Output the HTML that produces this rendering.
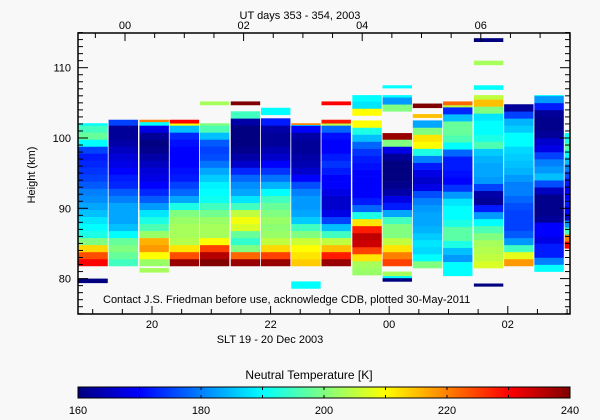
<!DOCTYPE html>
<html><head><meta charset="utf-8"><style>
html,body{margin:0;padding:0;background:#f8f8f8;}
svg{display:block;font-family:"Liberation Sans",sans-serif;}
</style></head><body>
<svg id="c" width="600" height="420" viewBox="0 0 600 420">
<rect width="600" height="420" fill="#f8f8f8"/>
<defs><clipPath id="pc"><rect x="78" y="33" width="492" height="281"/></clipPath>
<linearGradient id="jet" x1="0" x2="1" y1="0" y2="0">
<stop offset="0" stop-color="#000080"/><stop offset="0.125" stop-color="#0000ff"/><stop offset="0.25" stop-color="#0080ff"/><stop offset="0.375" stop-color="#00ffff"/><stop offset="0.5" stop-color="#80ff80"/><stop offset="0.625" stop-color="#ffff00"/><stop offset="0.75" stop-color="#ff8000"/><stop offset="0.875" stop-color="#ff0000"/><stop offset="1" stop-color="#800000"/>
</linearGradient></defs>
<g id="cells" clip-path="url(#pc)"></g>
<g id="axes"></g>
<text x="300" y="19" text-anchor="middle" font-size="11">UT days 353 - 354, 2003</text>
<text x="270" y="343" text-anchor="middle" font-size="11">SLT 19 - 20 Dec 2003</text>
<text transform="translate(35,175) rotate(-90)" text-anchor="middle" font-size="11">Height (km)</text>
<text x="103" y="303" font-size="11">Contact J.S. Friedman before use, acknowledge CDB, plotted 30-May-2011</text>
<text x="309" y="379" text-anchor="middle" font-size="12">Neutral Temperature [K]</text>
<rect x="78" y="387" width="492" height="11" fill="url(#jet)" stroke="#000" stroke-width="1"/>
<g id="cb"></g>
</svg>
<script>
// Column centre times (UT hours)
const times=[-0.53,-0.02,0.50,1.01,1.52,2.04,2.55,3.06,3.57,4.09,4.60,5.11,5.62,6.14,6.65,7.16,7.67];
// Segments: column index, bottom km, top km, temperatures (K) in 1 km bins bottom->top
const segCol=[0,0,1,2,2,2,3,3,4,4,5,5,6,6,7,7,7,8,8,8,9,9,10,10,10,10,10,10,11,11,11,12,12,13,13,13,13,13,14,15,16];
const segBottom=[81.8,79.4,81.8,81.8,102.3,80.9,81.8,102.1,81.8,104.7,81.8,104.7,81.8,103.3,81.8,101.9,78.6,81.8,102.1,104.7,80.5,103.2,81.8,79.6,80.1,80.4,103.8,107.1,81.5,104.3,102.9,80.4,104.7,81.5,78.9,106.9,110.4,113.7,81.8,81.0,84.3];
const segTop=[102.1,80.0,102.6,102.3,102.6,81.5,102.1,102.6,102.1,105.2,103.8,105.2,102.8,104.8,101.9,102.1,79.6,102.1,102.6,105.2,102.5,106.1,100.7,80.1,80.4,81.0,106.1,107.5,102.5,104.9,103.4,104.7,105.2,106.1,79.3,107.5,111.0,114.2,104.8,106.1,100.7];
const segVals=[
[230,224,213,200,192,190,188,185,183,181,180,177,175,174,173,172,175,190,198,195,190],
[160],
[195,198,200,198,190,185,183,183,183,180,177,173,172,170,168,167,165,163,162,162,175],
[202,210,218,216,202,196,192,188,182,177,173,170,168,167,165,163,161,160,162,168,190],
[220],[203],
[238,224,212,204,203,203,202,200,192,183,178,175,172,171,170,170,170,171,173,185,210],
[230],
[240,236,225,210,203,203,202,199,195,191,190,189,186,183,179,176,175,177,185,196,200],
[203],
[238,222,200,194,198,207,209,205,195,188,183,181,178,173,166,163,161,160,160,160,163,195],
[240],
[238,225,213,205,202,201,202,200,198,195,190,184,179,174,170,166,164,162,162,163,172],
[190],
[214,212,210,206,200,195,186,183,182,182,180,176,170,166,164,163,162,162,163,170,190],
[220],[190],
[238,228,215,205,195,185,175,168,166,166,168,170,170,172,174,172,170,170,171,178,205],
[228],[230],
[202,203,212,225,234,235,228,212,192,178,172,170,170,170,170,171,172,174,178,185,192,210],
[210,188,190],
[225,220,212,205,200,200,195,183,172,168,163,161,160,160,160,162,168,200,238],
[160],[190],[203],
[200,182,190],
[190],
[200,190,187,188,186,184,183,183,182,180,176,168,166,168,172,180,192,210,212,200,183],
[240],[215],
[190,190,182,185,192,197,197,192,190,190,188,182,174,170,171,172,172,178,190,196,198,198,185,173,205],
[222],
[207,205,204,203,200,196,190,182,172,162,163,175,182,183,183,184,186,196,192,190,190,188,200,215,205],
[160],[190],[203],[160],
[218,208,195,182,177,175,175,175,176,178,180,180,182,184,185,186,187,190,190,186,184,175,162],
[190,180,172,172,168,170,170,162,161,161,161,165,176,185,182,180,175,168,166,162,161,161,162,172,182,190],
[230,220,195,182,165,170,172,170,170,172,176,180,185,190,197,192,190]
];
const yTicks=[80,90,100,110];
const utTicks=[0,2,4,6];
const utLabels=["00","02","04","06"];
const sltTicks=[20,22,24,26];
const sltLabels=["20","22","00","02"];
const cbTicks=[160,180,200,220,240];
const NS="http://www.w3.org/2000/svg";
const X=t=>125+59.3*t;
const Y=h=>138-(h-100)*7.03;
const SLT0=19.545;
const XS=s=>X(s-SLT0);
const colW=0.5127;
const CB0=78,CBW=492;
const stops=[[0,0,0,128],[.125,0,0,255],[.25,0,128,255],[.375,0,255,255],[.5,128,255,128],[.625,255,255,0],[.75,255,128,0],[.875,255,0,0],[1,128,0,0]];
function jet(v){let f=Math.max(0,Math.min(1,(v-160)/80));for(let i=1;i<stops.length;i++){if(f<=stops[i][0]){const a=stops[i-1],b=stops[i],u=(f-a[0])/(b[0]-a[0]);return `rgb(${Math.round(a[1]+u*(b[1]-a[1]))},${Math.round(a[2]+u*(b[2]-a[2]))},${Math.round(a[3]+u*(b[3]-a[3]))})`;}}return "rgb(128,0,0)";}
function mk(tag,at,parent){const e=document.createElementNS(NS,tag);for(const k in at)e.setAttribute(k,at[k]);parent.appendChild(e);return e;}
const cells=document.getElementById('cells');
segCol.forEach((c,s)=>{
  const x0=X(times[c]-colW/2),x1=X(times[c]+colW/2);
  const vals=segVals[s];
  for(let i=0;i<vals.length;i++){
    const hb=segBottom[s]+i; let ht=Math.min(segBottom[s]+i+1,segTop[s]);
    if(ht<=hb)break;
    const r=mk('rect',{x:x0.toFixed(2),y:Y(ht).toFixed(2),width:(x1-x0-1).toFixed(2),height:(Y(hb)-Y(ht)+0.3).toFixed(2),fill:jet(vals[i])},cells);
    
    
  }
});
const ax=document.getElementById('axes');
const fr=mk('rect',{x:78,y:33,width:492,height:281,fill:'none',stroke:'#000','stroke-width':1.5},ax);


for(let h=75;h<=115;h++){
  const maj=h%10===0,L=maj?10:5,y=Y(h);
  mk('line',{x1:78,x2:78+L,y1:y,y2:y,stroke:'#000'},ax);
  mk('line',{x1:570,x2:570-L,y1:y,y2:y,stroke:'#000'},ax);
}
yTicks.forEach(v=>{const t=mk('text',{x:71,y:Y(v)+4,'text-anchor':'end','font-size':11},ax);t.textContent=v;

});
for(let t=-1;t<=8;t+=0.5){const x=X(t);if(x<78||x>570)continue;const L=(t%2===0)?8:5;mk('line',{x1:x,x2:x,y1:33,y2:33+L,stroke:'#000'},ax);}
utTicks.forEach((v,i)=>{const t=mk('text',{x:X(v),y:29,'text-anchor':'middle','font-size':11},ax);t.textContent=utLabels[i];

});
for(let s=18;s<=28;s+=0.5){const x=XS(s);if(x<78||x>570)continue;const L=(s%2===0)?8:5;mk('line',{x1:x,x2:x,y1:314,y2:314-L,stroke:'#000'},ax);}
sltTicks.forEach((v,i)=>{const t=mk('text',{x:XS(v),y:328,'text-anchor':'middle','font-size':11},ax);t.textContent=sltLabels[i];

});
const cb=document.getElementById('cb');
for(let v=160;v<=240;v+=10){const x=CB0+(v-160)/80*CBW;mk('line',{x1:x,x2:x,y1:387,y2:390,stroke:'#000'},cb);mk('line',{x1:x,x2:x,y1:398,y2:395,stroke:'#000'},cb);}
cbTicks.forEach(v=>{const t=mk('text',{x:CB0+(v-160)/80*CBW,y:414,'text-anchor':'middle','font-size':11},cb);t.textContent=v;

});
</script>
</body></html>
